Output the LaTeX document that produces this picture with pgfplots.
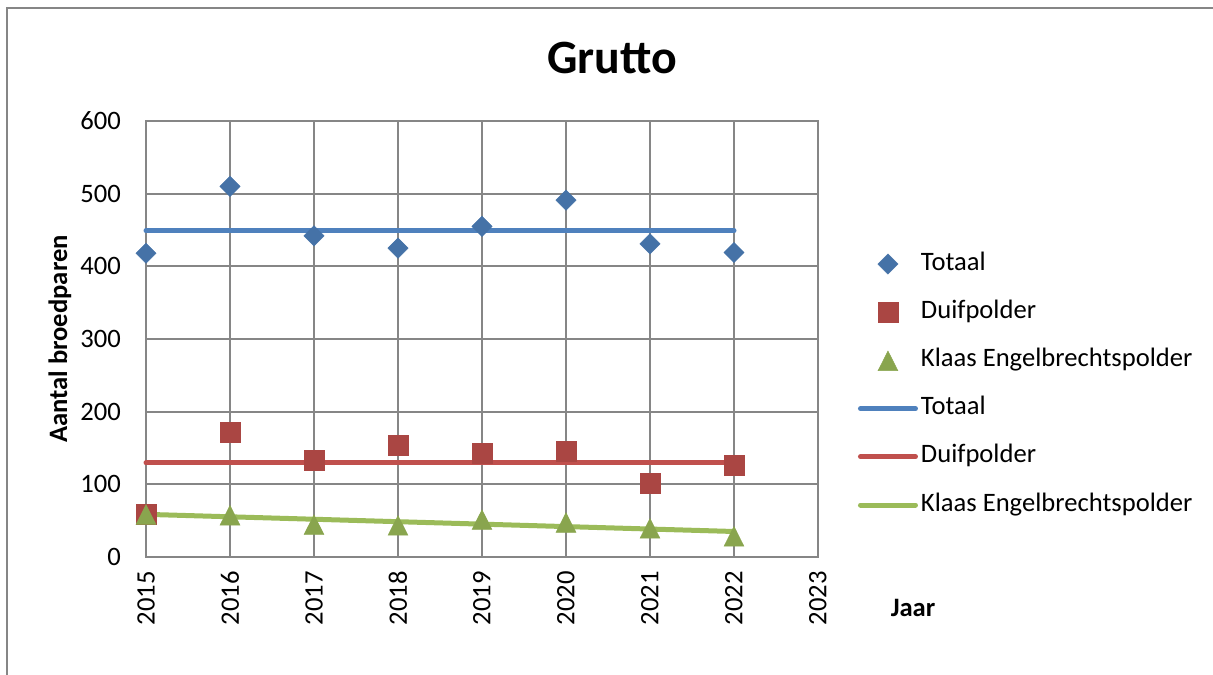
\documentclass[border=0pt]{standalone}
\usepackage{fontspec}
\setmainfont{Carlito}
\usepackage{pgfplots}
\pgfplotsset{compat=1.18}
\definecolor{totm}{HTML}{4572A7}
\definecolor{totl}{HTML}{4F81BD}
\definecolor{duim}{HTML}{AA4643}
\definecolor{duil}{HTML}{C0504D}
\definecolor{klam}{HTML}{89A54E}
\definecolor{klal}{HTML}{9BBB59}
\definecolor{gridc}{HTML}{868686}
\pgfplotsset{
  markleg/.style={legend image code/.code={\draw[##1] plot coordinates {(27.5bp,0bp)};}},
  lineleg/.style={legend image code/.code={\draw[##1] (0bp,0bp) -- (55bp,0bp);}},
}
\begin{document}
\begin{tikzpicture}
\useasboundingbox (0,0) rectangle (1213bp,675bp);
\draw[gridc, line width=1.2bp] (7bp,0) -- (7bp,667bp) -- (1213bp,667bp);
\begin{axis}[
  at={(146bp,118bp)}, anchor=south west,
  scale only axis, width=672bp, height=436bp,
  xmin=2015, xmax=2023, ymin=0, ymax=600,
  xtick={2015,...,2023}, ytick={0,100,...,600},
  xticklabels={2015,2016,2017,2018,2019,2020,2021,2022,2023},
  grid=major,
  major grid style={gridc, line width=2bp},
  axis line style={gridc, line width=2.2bp},
  major tick length=0pt,
  /pgf/number format/assume math mode=true,
  /pgf/number format/1000 sep={},
  tick label style={font=\fontsize{26.7}{32}\selectfont, inner sep=0pt},
  xticklabel style={rotate=90, anchor=east},
  xticklabel shift=14bp,
  yticklabel shift=25bp,
  ylabel={Aantal broedparen},
  ylabel style={font=\bfseries\fontsize{26.7}{32}\selectfont, at={(axis description cs:-0.128,0.5)}, anchor=center},
  xlabel={Jaar},
  xlabel style={font=\bfseries\fontsize{26.7}{32}\selectfont, at={(axis description cs:1.1414,-0.117)}, anchor=center},
  title={Grutto},
  title style={font=\bfseries\fontsize{48}{56}\selectfont, at={(axis description cs:0.6935,1.130)}, anchor=center},
  legend style={draw=none, fill=none, at={(axis description cs:1.0595,0.6995)}, anchor=north west,
    font=\fontsize{26.7}{32}\selectfont, inner sep=0pt, outer sep=0pt,
    row sep=24.2bp, column sep=3bp,
    nodes={inner sep=0pt, text height=18bp, text depth=6bp, anchor=west}},
  legend cell align=left,
  clip=false,
]
% trend lines (drawn below the markers)
\addplot[totl, line width=5bp, line cap=round, forget plot] coordinates {(2015,449) (2022,449)};
\addplot[duil, line width=5bp, line cap=round, forget plot] coordinates {(2015,129.4) (2022,129.4)};
\addplot[klal, line width=5bp, line cap=round, forget plot] coordinates {(2015,58.7) (2022,35.1)};
% markers
\addplot[only marks, mark=square*, mark size=7.2bp, mark options={rotate=45, draw=totm, fill=totm}, markleg]
  coordinates {(2015,418) (2016,510) (2017,442) (2018,425) (2019,455) (2020,491) (2021,431) (2022,419)};
\addlegendentry{Totaal}
\addplot[only marks, mark=square*, mark size=10bp, mark options={draw=duim, fill=duim}, markleg]
  coordinates {(2015,59) (2016,172) (2017,133) (2018,154) (2019,143) (2020,145) (2021,102) (2022,127)};
\addlegendentry{Duifpolder}
\addplot[only marks, mark=triangle*, mark size=11.5bp, mark options={draw=klam, fill=klam, yscale=1.14, yshift=-3.2bp}, markleg]
  coordinates {(2015,59) (2016,58) (2017,45) (2018,44) (2019,52) (2020,48) (2021,40) (2022,29)};
\addlegendentry{Klaas Engelbrechtspolder}
\addlegendimage{totl, line width=5bp, line cap=round, lineleg}
\addlegendentry{Totaal}
\addlegendimage{duil, line width=5bp, line cap=round, lineleg}
\addlegendentry{Duifpolder}
\addlegendimage{klal, line width=5bp, line cap=round, lineleg}
\addlegendentry{Klaas Engelbrechtspolder}
\end{axis}
\end{tikzpicture}
\end{document}
